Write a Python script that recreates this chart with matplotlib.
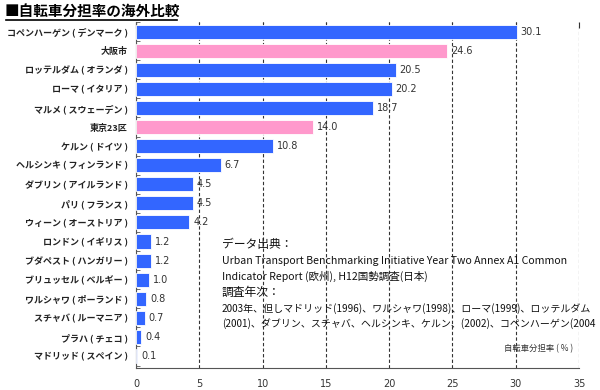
import numpy as np
import matplotlib
matplotlib.use("Agg")
import matplotlib.pyplot as plt

plt.rcParams['font.family'] = ['Noto Sans CJK JP', 'DejaVu Sans']

cities = ['コペンハーゲン ( デンマーク )', '大阪市', 'ロッテルダム ( オランダ )', 'ローマ ( イタリア )',
          'マルメ ( スウェーデン )', '東京23区', 'ケルン ( ドイツ )', 'ヘルシンキ ( フィンランド )',
          'ダブリン ( アイルランド )', 'パリ ( フランス )', 'ウィーン ( オーストリア )', 'ロンドン ( イギリス )',
          'ブダペスト ( ハンガリー )', 'ブリュッセル ( ベルギー )', 'ワルシャワ ( ポーランド )',
          'スチャバ ( ルーマニア )', 'プラハ ( チェコ )', 'マドリッド ( スペイン )']
shares = [30.1, 24.6, 20.5, 20.2, 18.7, 14.0, 10.8, 6.7, 4.5, 4.5, 4.2, 1.2, 1.2, 1.0, 0.8, 0.7, 0.4, 0.1]
japan = ['大阪市', '東京23区']
xticks = [0, 5, 10, 15, 20, 25, 30, 35]

note_lines = ['データ出典：',
              'Urban Transport Benchmarking Initiative Year Two Annex A1 Common',
              'Indicator Report (欧州), H12国勢調査(日本)',
              '調査年次：',
              '2003年、但しマドリッド(1996)、ワルシャワ(1998)、ローマ(1999)、ロッテルダム',
              '(2001)、ダブリン、スチャバ、ヘルシンキ、ケルン、(2002)、コペンハーゲン(2004']
note_sizes = [8.5, 7.6, 7.6, 8.5, 7.2, 7.2]

blue = '#3366ff'
pink = '#ff99cc'
colors = [pink if c in japan else blue for c in cities]

fig = plt.figure(figsize=(6, 3.9), dpi=100)
ax = fig.add_axes([0.227, 0.0564, 0.738, 0.887])

y = np.arange(len(cities))
ax.barh(y, shares, height=0.74, color=colors, edgecolor='white', linewidth=0.6, zorder=3)
for yi, v in zip(y, shares):
    ax.text(v + 0.3, yi, f'{v:.1f}', va='center', ha='left', fontsize=7, color='#333333', zorder=4,
            family=['DejaVu Sans'])

ax.set_xlim(0, 35)
ax.set_ylim(len(cities) - 0.37, -0.47)
ax.set_xticks(xticks)
ax.set_xticklabels([str(t) for t in xticks], fontsize=7, color='#333333', family=['DejaVu Sans'])
ax.set_yticks(y)
ax.set_yticklabels(cities, fontsize=6.5, color='#222222', fontweight='bold')
ax.tick_params(axis='y', length=0, pad=6)
ax.set_yticks(np.arange(len(cities) + 1) - 0.5, minor=True)
ax.tick_params(axis='y', which='minor', direction='in', length=3, color='#555555')
ax.tick_params(axis='x', direction='in', length=4, top=True, bottom=False, pad=8, color='#333333')
ax.xaxis.grid(True, linestyle=(0, (3, 2)), color='#333333', linewidth=0.8, zorder=0)
ax.set_axisbelow(True)
for s in ['top', 'right']:
    ax.spines[s].set_visible(False)
ax.spines['left'].set_color('#555555')
ax.spines['bottom'].set_color('#555555')

fig.text(0.008, 0.972, '■自転車分担率の海外比較', fontsize=10.5, fontweight='bold', va='center', ha='left')
fig.add_artist(plt.Line2D([0.01, 0.295], [0.948, 0.948], color='black', linewidth=1.2))

# source note, one line at a time (about 16 px apart)
for i, (line, size) in enumerate(zip(note_lines, note_sizes)):
    fig.text(0.37, 0.372 - i * 0.0405, line, fontsize=size, va='center', ha='left', zorder=5,
             color='#111111')
ax.text(34.5, 16.6, '自転車分担率 ( % )', fontsize=6, ha='right', va='center', color='#333333')

fig.savefig('out.png', dpi=100)
